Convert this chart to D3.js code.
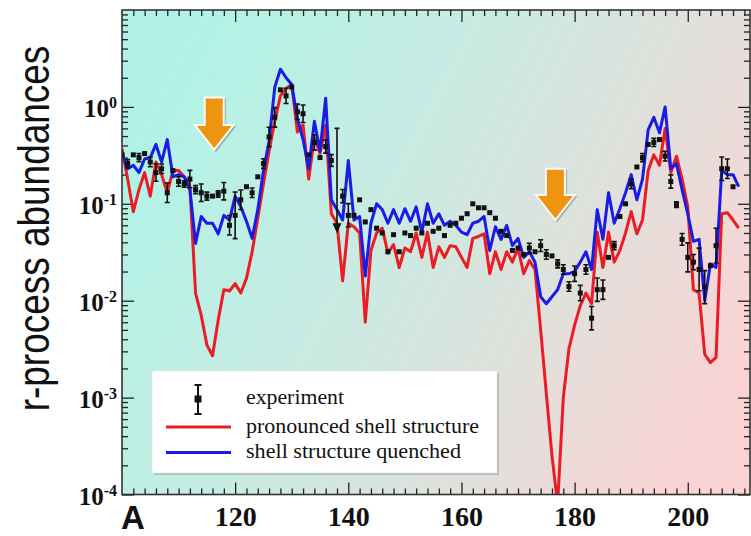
<!DOCTYPE html>
<html><head><meta charset="utf-8">
<script src="https://cdn.jsdelivr.net/npm/d3@7"></script>
<style>html,body{margin:0;padding:0;background:#fff;} svg{display:block;}</style>
</head><body>
<svg id="chart" width="751" height="536"></svg>
<script>
// ---------- data ----------
const massStart = 100; // mass number A of the first model value (one value per A)
const pronounced = [0.37,0.18,0.083,0.14,0.21,0.12,0.27,0.20,0.13,0.22,
  0.22,0.19,0.15,0.012,0.0071,0.0035,0.0027,0.0063,0.013,0.0126,
  0.015,0.012,0.017,0.032,0.071,0.16,0.35,0.71,1.3,1.55,
  1.7,0.55,0.65,0.18,0.48,0.33,0.65,0.079,0.063,0.016,
  0.063,0.058,0.050,0.0060,0.033,0.050,0.056,0.031,0.038,0.022,
  0.035,0.032,0.050,0.028,0.051,0.022,0.036,0.028,0.037,0.036,
  0.028,0.022,0.044,0.046,0.049,0.019,0.032,0.021,0.032,0.025,
  0.035,0.019,0.026,0.021,0.0050,0.0011,0.00025,0.00008,0.0010,0.0032,
  0.0056,0.0089,0.012,0.0093,0.051,0.022,0.051,0.025,0.033,0.050,
  0.083,0.049,0.068,0.22,0.32,0.25,0.60,0.21,0.31,0.18,
  0.093,0.013,0.012,0.0028,0.0023,0.0026,0.079,0.081,0.068,0.056];
const quenched = [0.33,0.23,0.25,0.21,0.29,0.30,0.41,0.27,0.46,0.19,
  0.20,0.19,0.14,0.039,0.074,0.063,0.063,0.049,0.076,0.068,
  0.12,0.093,0.066,0.044,0.087,0.22,0.44,1.6,2.45,2.0,
  1.7,0.76,0.46,0.23,0.71,0.35,1.23,0.11,0.087,0.068,
  0.28,0.068,0.074,0.018,0.063,0.10,0.087,0.063,0.087,0.063,
  0.089,0.066,0.093,0.051,0.10,0.063,0.079,0.060,0.066,0.060,
  0.051,0.048,0.063,0.066,0.074,0.033,0.058,0.043,0.060,0.037,
  0.044,0.028,0.032,0.025,0.011,0.0093,0.011,0.013,0.019,0.019,
  0.020,0.025,0.032,0.021,0.087,0.043,0.13,0.063,0.089,0.13,
  0.20,0.11,0.18,0.58,0.78,0.54,1.0,0.23,0.26,0.14,
  0.079,0.041,0.043,0.010,0.024,0.022,0.22,0.20,0.20,0.15];
const expA = [100,101,102,103,104,105,106,107,108,109,110,111,112,113,114,115,116,117,118,119,
  120,121,122,123,124,125,126,127,128,129,130,131,132,133,134,135,136,137,139,
  140,141,142,143,144,145,146,147,148,149,150,151,152,153,154,155,156,157,158,159,
  160,161,162,163,164,165,166,167,168,169,170,171,172,173,174,175,176,177,178,179,
  180,181,182,183,184,185,186,187,188,189,190,191,192,193,194,195,196,197,198,199,
  200,201,202,203,204,205,206,207,208];
const expVal = [0.32,0.26,0.32,0.30,0.33,0.27,0.21,0.23,0.13,0.22,0.17,0.16,0.18,0.14,0.13,0.12,0.12,0.126,0.135,0.060,
  0.076,0.11,0.15,0.13,0.19,0.26,0.49,0.78,1.5,1.3,1.6,0.89,0.85,0.32,0.43,0.30,0.39,0.28,0.12,
  0.076,0.076,0.11,0.065,0.087,0.056,0.050,0.032,0.048,0.032,0.050,0.047,0.056,0.050,0.063,0.052,0.056,0.047,0.060,0.063,
  0.071,0.079,0.10,0.091,0.091,0.081,0.071,0.052,0.047,0.033,0.035,0.030,0.035,0.032,0.037,0.030,0.029,0.024,0.021,0.014,
  0.019,0.012,0.021,0.0066,0.013,0.013,0.028,0.037,0.074,0.10,0.16,0.24,0.30,0.41,0.43,0.46,0.31,0.17,0.098,0.043,
  0.028,0.025,0.021,0.0138,0.023,0.037,0.23,0.23,0.15];
// multiplicative uncertainty (1 = no visible error bar)
const expErr = [1,1.10,1,1.10,1,1.12,1.23,1.12,1.26,1,1.12,1.08,1.23,1.10,1.23,1.10,1,1.08,1.23,1.26,
  1.74,1.26,1,1.12,1,1.12,1.26,1.26,1,1.20,1,1.20,1.23,1,1.20,1,1.17,1.15,1.17,
  1.32,1,1,1,1,1,1,1,1,1,1,1,1,1,1,1,1,1,1,1,
  1,1,1,1,1,1,1,1,1,1,1,1,1.12,1,1.15,1.12,1,1.10,1.12,1.12,
  1.20,1.20,1.12,1.32,1.32,1.26,1,1.10,1,1,1.12,1,1.10,1,1.10,1,1.12,1.17,1.07,1.15,
  1.41,1.20,1.66,1.48,1,1.51,1.32,1.26,1];
const limitA = [138], limitHigh = [0.60], limitLow = [0.056];
const arrowA = [116.3, 176.6], arrowTop = [1.25, 0.23], arrowTip = [0.36, 0.068];
const xTickLabels = [120, 140, 160, 180, 200];
const yDecades = [1, 0.1, 0.01, 0.001, 0.0001];
const legendLabels = ["experiment", "pronounced shell structure", "shell structure quenched"];
const seriesColors = {pronounced: "#ec1c24", quenched: "#1b1be6"};

// ---------- layout ----------
const W = 751, H = 536;
const L = 122, R = 750, T = 10, B = 494.5;
const svg = d3.select("#chart");
const x = d3.scaleLinear().domain([100, 211]).range([L, R]);
const y = d3.scaleLog().domain([1e-4, 10]).range([B, T]);

const defs = svg.append("defs");
const grad = defs.append("linearGradient").attr("id", "bg")
  .attr("x1", 0).attr("y1", 0.3).attr("x2", 1).attr("y2", 0.7);
[[0, "#b0f3e6"], [0.4, "#c9ebe2"], [0.68, "#dfe1dc"], [1, "#fad4d4"]]
  .forEach(([o, c]) => grad.append("stop").attr("offset", o).attr("stop-color", c));
defs.append("clipPath").attr("id", "clip").append("rect")
  .attr("x", L).attr("y", T).attr("width", R - L).attr("height", B - T);

svg.append("rect").attr("width", W).attr("height", H).attr("fill", "#fff");
svg.append("rect").attr("x", L).attr("y", T).attr("width", R - L).attr("height", B - T)
  .attr("fill", "url(#bg)");

// ---------- axes ----------
const axisStyle = g => { g.select(".domain").remove();
  g.selectAll(".tick line").attr("stroke", "#222").attr("stroke-width", 1.3); };
const minorX = d3.range(102, 211, 2).filter(v => v % 20 !== 0);
const minorY = [];
[-4, -3, -2, -1, 0].forEach(e => { for (let k = 2; k <= 9; k++) minorY.push(k * Math.pow(10, e)); });

svg.append("g").attr("transform", `translate(0,${B})`)
  .call(d3.axisBottom(x).tickValues(minorX).tickSize(-6).tickFormat("")).call(axisStyle);
svg.append("g").attr("transform", `translate(0,${T})`)
  .call(d3.axisTop(x).tickValues(minorX).tickSize(-6).tickFormat("")).call(axisStyle);
svg.append("g").attr("transform", `translate(0,${T})`)
  .call(d3.axisTop(x).tickValues(xTickLabels).tickSize(-12).tickFormat("")).call(axisStyle);
const gx = svg.append("g").attr("transform", `translate(0,${B})`)
  .call(d3.axisBottom(x).tickValues(xTickLabels).tickSize(-12).tickPadding(12).tickFormat(d3.format("d")))
  .call(axisStyle);
gx.selectAll(".tick text").attr("font-family", "'Liberation Serif','Times New Roman',serif")
  .attr("font-weight", "bold").attr("font-size", 28).attr("fill", "#111");

svg.append("g").attr("transform", `translate(${L},0)`)
  .call(d3.axisLeft(y).tickValues(minorY).tickSize(-6).tickFormat("")).call(axisStyle);
svg.append("g").attr("transform", `translate(${R},0)`)
  .call(d3.axisRight(y).tickValues(minorY).tickSize(-6).tickFormat("")).call(axisStyle);
svg.append("g").attr("transform", `translate(${R},0)`)
  .call(d3.axisRight(y).tickValues(yDecades).tickSize(-12).tickFormat("")).call(axisStyle);
const gy = svg.append("g").attr("transform", `translate(${L},0)`)
  .call(d3.axisLeft(y).tickValues(yDecades).tickSize(-12).tickPadding(5).tickFormat(() => "10"))
  .call(axisStyle);
gy.selectAll(".tick text").attr("font-family", "'Liberation Serif','Times New Roman',serif")
  .attr("font-weight", "bold").attr("font-size", 25).attr("fill", "#111").attr("dy", "0.38em")
  .each(function (d) {
    d3.select(this).append("tspan").attr("dy", -9).attr("font-size", 16)
      .text(String(Math.round(Math.log10(d))));
  });

// ---------- data marks ----------
const plot = svg.append("g").attr("clip-path", "url(#clip)");
const line = d3.line().x((d, i) => x(massStart + i)).y(d => y(d));
plot.append("path").datum(pronounced).attr("d", line).attr("fill", "none")
  .attr("stroke", seriesColors.pronounced).attr("stroke-width", 3).attr("stroke-linejoin", "round");
plot.append("path").datum(quenched).attr("d", line).attr("fill", "none")
  .attr("stroke", seriesColors.quenched).attr("stroke-width", 3).attr("stroke-linejoin", "round");

const exp = expA.map((a, i) => ({a, v: expVal[i], f: expErr[i]}));
const eg = plot.append("g").attr("stroke", "#111").attr("stroke-width", 1.6);
exp.filter(d => d.f > 1).forEach(d => {
  const x0 = x(d.a), y1 = y(d.v * d.f), y2 = y(d.v / d.f);
  eg.append("line").attr("x1", x0).attr("x2", x0).attr("y1", y1).attr("y2", y2);
  eg.append("line").attr("x1", x0 - 2.5).attr("x2", x0 + 2.5).attr("y1", y1).attr("y2", y1);
  eg.append("line").attr("x1", x0 - 2.5).attr("x2", x0 + 2.5).attr("y1", y2).attr("y2", y2);
});
plot.append("g").selectAll("rect").data(exp).join("rect")
  .attr("x", d => x(d.a) - 2.5).attr("y", d => y(d.v) - 2.5)
  .attr("width", 5).attr("height", 5).attr("fill", "#111");
limitA.forEach((a, i) => {
  const x0 = x(a), yh = y(limitHigh[i]), yl = y(limitLow[i]);
  eg.append("line").attr("x1", x0).attr("x2", x0).attr("y1", yh).attr("y2", yl);
  eg.append("line").attr("x1", x0 - 2.5).attr("x2", x0 + 2.5).attr("y1", yh).attr("y2", yh);
  plot.append("path").attr("d", `M${x0 - 4.5},${yl - 5}L${x0 + 4.5},${yl - 5}L${x0},${yl + 5}Z`).attr("fill", "#111");
});

// ---------- arrows ----------
arrowA.forEach((a, i) => {
  const cx = x(a), t = y(arrowTop[i]), tip = y(arrowTip[i]);
  const hw = 9.5, hh = 25, wing = 19.5;
  const p = `M${cx - hw},${t}L${cx + hw},${t}L${cx + hw},${tip - hh}L${cx + wing},${tip - hh}L${cx},${tip}L${cx - wing},${tip - hh}L${cx - hw},${tip - hh}Z`;
  svg.append("path").attr("d", p).attr("transform", "translate(1.5,1.5)")
    .attr("fill", "rgba(0,0,0,0.22)").attr("stroke", "rgba(0,0,0,0.12)").attr("stroke-width", 2);
  svg.append("path").attr("d", p).attr("fill", "#ef9410").attr("stroke", "#fbfbf6")
    .attr("stroke-width", 2).attr("stroke-linejoin", "miter");
});

// ---------- frame ----------
svg.append("rect").attr("x", L).attr("y", T).attr("width", R - L).attr("height", B - T)
  .attr("fill", "none").attr("stroke", "#333").attr("stroke-width", 1.6);

// ---------- legend ----------
const lg = svg.append("g");
lg.append("rect").attr("x", 154).attr("y", 373).attr("width", 345).attr("height", 102).attr("fill", "rgba(0,0,0,0.18)");
lg.append("rect").attr("x", 152).attr("y", 371).attr("width", 345).attr("height", 102).attr("fill", "#fff")
  .attr("stroke", "#e4e4e4").attr("stroke-width", 0.8);
lg.append("line").attr("x1", 198).attr("x2", 198).attr("y1", 385).attr("y2", 414).attr("stroke", "#111").attr("stroke-width", 2);
lg.append("line").attr("x1", 194.5).attr("x2", 201.5).attr("y1", 385).attr("y2", 385).attr("stroke", "#111").attr("stroke-width", 2);
lg.append("line").attr("x1", 194.5).attr("x2", 201.5).attr("y1", 414).attr("y2", 414).attr("stroke", "#111").attr("stroke-width", 2);
lg.append("rect").attr("x", 194.5).attr("y", 395.5).attr("width", 7).attr("height", 7).attr("fill", "#111");
lg.append("line").attr("x1", 166).attr("x2", 231).attr("y1", 427).attr("y2", 427).attr("stroke", seriesColors.pronounced).attr("stroke-width", 3);
lg.append("line").attr("x1", 166).attr("x2", 231).attr("y1", 452.5).attr("y2", 452.5).attr("stroke", seriesColors.quenched).attr("stroke-width", 3);
const lw = [98, 233, 215], lyb = [404, 433, 458];
legendLabels.forEach((t, i) => {
  lg.append("text").attr("x", 246).attr("y", lyb[i]).text(t)
    .attr("font-family", "'Liberation Serif','Times New Roman',serif").attr("font-size", 20)
    .attr("fill", "#111").attr("textLength", lw[i]).attr("lengthAdjust", "spacingAndGlyphs");
});

// ---------- titles ----------
svg.append("text").attr("transform", "translate(49,228.5) rotate(-90) scale(0.84,1)")
  .attr("text-anchor", "middle").attr("font-family", "'Liberation Sans',Arial,sans-serif")
  .attr("font-size", 44).attr("fill", "#111")
  .text("r-process abundances");
svg.append("text").attr("x", 121).attr("y", 529).attr("font-family", "'Liberation Sans',Arial,sans-serif")
  .attr("font-weight", "bold").attr("font-size", 33).attr("fill", "#111").text("A");
</script>
</body></html>
